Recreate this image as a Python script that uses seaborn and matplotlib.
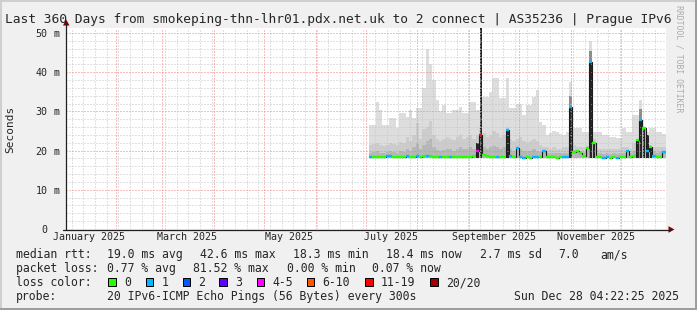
import numpy as np
import matplotlib
matplotlib.use("Agg")
import matplotlib.pyplot as plt
import seaborn as sns
from matplotlib.patches import Rectangle, Polygon
from matplotlib.lines import Line2D

# ---------------- data ----------------
title_text = "Last 360 Days from smokeping-thn-lhr01.pdx.net.uk to 2 connect | AS35236 | Prague IPv6"
graph_end = np.datetime64("2025-12-28T04:22:25")
span_days = 360
first_step = np.datetime64("2025-07-03")
step_days = 2

median_ms = [18.4, 18.3, 18.4, 18.3, 18.4, 18.5, 18.5, 18.4, 18.3, 18.4,
             18.3, 18.5, 18.4, 18.4, 18.5, 18.4, 18.5, 18.6, 18.5, 18.4,
             18.4, 18.3, 18.4, 18.3, 18.4, 18.4, 18.3, 18.4, 18.4, 18.3,
             18.4, 18.5, 20.0, 24.0, 18.8, 18.5, 18.4, 18.3, 18.4, 18.4,
             18.3, 25.2, 18.5, 18.3, 20.7, 18.4, 18.2, 18.3, 18.2, 18.3,
             18.4, 18.3, 20.0, 18.4, 18.3, 18.3, 18.2, 18.4, 18.3, 18.4,
             31.0, 19.7, 20.0, 19.5, 18.5, 20.6, 42.6, 22.0, 18.4, 18.3,
             18.2, 18.3, 18.2, 18.3, 18.2, 18.3, 18.4, 20.0, 18.3, 18.6,
             22.7, 27.8, 25.8, 20.0, 21.0, 18.5, 18.3, 18.4, 19.6]

smoke_max_ms = [26.5, 26.5, 32.5, 30.4, 26.5, 26.5, 28.3, 28.3, 25.8, 29.6,
                29.6, 28.6, 30.4, 28.3, 30.9, 30.9, 36.0, 46.0, 42.0, 38.0,
                33.0, 30.0, 31.6, 29.6, 29.6, 30.4, 30.4, 31.0, 29.6, 29.6,
                32.4, 32.4, 30.4, 30.4, 33.7, 33.7, 35.0, 38.5, 38.5, 33.4,
                33.4, 38.5, 30.9, 30.9, 32.0, 32.0, 29.0, 31.6, 31.6, 33.7,
                35.4, 27.3, 26.5, 24.0, 24.5, 25.0, 24.8, 24.2, 23.9, 24.8,
                37.5, 25.8, 25.8, 25.8, 24.7, 24.7, 48.0, 24.7, 24.7, 24.7,
                24.0, 24.0, 23.5, 23.5, 23.2, 23.2, 25.8, 24.7, 24.7, 29.0,
                29.0, 33.0, 24.7, 24.7, 25.8, 25.8, 24.7, 24.7, 24.3]

smoke_p75_ms = [21.5, 21.8, 22.0, 21.5, 21.2, 21.5, 22.0, 21.8, 21.5, 22.2,
                22.0, 23.5, 22.5, 24.0, 27.0, 23.0, 25.5, 26.0, 27.5, 24.0,
                23.0, 22.5, 23.0, 23.5, 23.0, 22.8, 23.5, 24.0, 23.0, 23.5,
                24.0, 23.0, 24.0, 26.0, 24.5, 23.5, 24.0, 25.0, 24.5, 23.5,
                24.0, 26.0, 23.0, 22.5, 23.0, 23.5, 22.5, 22.0, 22.5, 23.0,
                22.5, 21.5, 21.0, 20.8, 20.5, 21.0, 20.5, 20.5, 21.0, 21.0,
                21.5, 21.5, 21.0, 21.0, 20.8, 21.2, 22.0, 23.0, 20.5, 20.5,
                20.3, 20.5, 20.3, 20.5, 20.4, 20.5, 21.0, 21.0, 20.5, 22.0,
                23.0, 22.0, 26.0, 23.0, 21.5, 21.0, 20.8, 21.0, 21.0]

smoke_p60_ms = [19.5, 19.6, 19.8, 19.5, 19.4, 19.6, 19.8, 19.6, 19.5, 19.8,
                19.7, 20.5, 20.0, 21.0, 22.0, 20.5, 21.5, 22.5, 23.0, 21.0,
                20.2, 20.0, 20.2, 20.5, 20.3, 20.0, 20.4, 20.8, 20.3, 20.5,
                20.8, 20.4, 21.5, 24.0, 21.0, 20.5, 20.8, 21.2, 21.0, 20.5,
                20.8, 25.2, 20.4, 20.0, 21.0, 20.5, 20.0, 19.8, 20.0, 20.3,
                20.0, 19.6, 20.0, 19.4, 19.3, 19.5, 19.3, 19.4, 19.5, 19.5,
                20.5, 20.2, 20.0, 20.0, 19.6, 20.6, 21.0, 22.0, 19.4, 19.3,
                19.2, 19.3, 19.2, 19.3, 19.2, 19.3, 19.5, 20.0, 19.4, 20.0,
                22.7, 21.0, 25.8, 21.0, 21.0, 19.8, 19.5, 19.6, 19.8]

smoke_min_ms = 18.0

spike_steps = [32, 33, 41, 60, 66, 67, 80, 81, 82, 83, 84]
spike_top_ms = [22.0, 51.3, 25.2, 31.0, 42.6, 22.0, 22.7, 27.8, 25.8, 24.0, 21.0]
haze_steps = [60, 66, 81]
haze_top_ms = [34.0, 45.5, 30.5]

loss_code = [1, 0, 0, 0, 0, 1, 1, 0, 0, 0,
             0, 1, 0, 0, 1, 0, 0, 1, 0, 0,
             0, 1, 0, 0, 1, 0, 0, 0, 0, 0,
             0, 0, 4, 6, 0, 0, 0, 0, 1, 0,
             0, 1, 1, 0, 1, 1, 1, 0, 0, 1,
             1, 0, 1, 0, 0, 0, 0, 0, 1, 1,
             1, 0, 0, 0, 0, 0, 1, 0, 0, 0,
             1, 1, 0, 0, 1, 0, 0, 1, 0, 0,
             0, 1, 0, 1, 0, 1, 0, 0, 1]

loss_labels = ["0", "1", "2", "3", "4-5", "6-10", "11-19", "20/20"]
loss_colors = ["#26ff00", "#00b8ff", "#0059ff", "#5e00ff", "#ff00ff", "#ff5500", "#ff0000", "#a10000"]

month_labels = ["January 2025", "March 2025", "May 2025", "July 2025", "September 2025", "November 2025"]
month_label_months = ["2025-01", "2025-03", "2025-05", "2025-07", "2025-09", "2025-11"]
y_ticks_ms = [0, 10, 20, 30, 40, 50]
y_tick_numbers = ["0", "10", "20", "30", "40", "50"]
y_tick_units = ["", "m", "m", "m", "m", "m"]

row_rtt = [("median rtt:", 16), ("19.0 ms avg", 107.3), ("42.6 ms max", 200), ("18.3 ms min", 293.3),
           ("18.4 ms now", 386.3), ("2.7 ms sd", 479.7), ("7.0", 558), ("am/s", 600.3)]
row_loss = [("packet loss:", 16), ("0.77 % avg", 107.3), ("81.52 % max", 193.3),
            ("0.00 % min", 286.7), ("0.07 % now", 372.3)]
loss_box_x = [108.3, 145.7, 182.7, 219.3, 256.7, 306.7, 365.3, 430.3]
row_probe = [("probe:", 16), ("20 IPv6-ICMP Echo Pings (56 Bytes) every 300s", 107.3),
             ("Sun Dec 28 04:22:25 2025", 513.7)]

# ---------------- layout ----------------
W, H = 697, 310
sns.set_style("white")
plt.rcParams["font.family"] = ["DejaVu Sans Mono", "DejaVu Sans"]
MONO = "DejaVu Sans Mono"

fig = plt.figure(figsize=(W / 100, H / 100), dpi=100)
fig.patch.set_facecolor("#f0f0f0")


def P(x, y):
    return (x / W, 1 - y / H)


PL, PR, PT, PB = 66, 666, 28, 229
ax = fig.add_axes([PL / W, 1 - PB / H, (PR - PL) / W, (PB - PT) / H])
ax.set_facecolor("white")

day0 = np.datetime64("2025-01-01T00:00:00")
end_d = (graph_end - day0) / np.timedelta64(1, "D")
start_d = end_d - span_days
ax.set_xlim(start_d, end_d)
ax.set_ylim(0, (PB - PT) / 3.92)
for s in ax.spines.values():
    s.set_visible(False)

n = len(median_ms)
first_d = (first_step - day0) / np.timedelta64(1, "D")
edges = first_d + step_days * np.arange(n + 1, dtype=float)
edges[-1] = min(edges[-1], end_d)


def stepfill(top, color, z):
    top = np.asarray(top, dtype=float)
    ax.fill_between(edges, smoke_min_ms, np.r_[top, top[-1]], step="post",
                    color=color, lw=0, zorder=z, antialiased=False)


stepfill(smoke_max_ms, "#dddddd", 1)
stepfill(smoke_p75_ms, "#cccccc", 1.1)
stepfill(smoke_p60_ms, "#b6b6b6", 1.2)

for i, t in zip(haze_steps, haze_top_ms):
    ax.bar(edges[i] + 0.2, t - smoke_min_ms, bottom=smoke_min_ms, width=1.6,
           align="edge", color="#8c8c8c", lw=0, zorder=1.3)
for i, t in zip(spike_steps, spike_top_ms):
    ax.bar(edges[i] + 0.3, t - smoke_min_ms, bottom=smoke_min_ms, width=1.4,
           align="edge", color="#262626", lw=0, zorder=1.4)

# grid (dotted, drawn over the smoke as rrdtool does)
month_starts = np.arange(np.datetime64("2025-01"), np.datetime64("2026-01")).astype("datetime64[D]")
month_d = (month_starts - np.datetime64("2025-01-01")) / np.timedelta64(1, "D")
week_d = np.arange(4.5, 362, 7.0)
GRID_KW = dict(lw=0.72, ls=(0, (1, 2)), antialiased=True)
for d in week_d:
    if start_d < d < end_d:
        ax.axvline(d, color="#c4c4c4", zorder=2, **GRID_KW)
for v in np.arange(2, 51, 2):
    if v % 10:
        ax.axhline(v, color="#c4c4c4", zorder=2, **GRID_KW)
for d in month_d:
    if start_d < d < end_d:
        ax.axvline(d, color="#f08080", zorder=2.1, **GRID_KW)
for v in [10, 20, 30, 40, 50]:
    ax.axhline(v, color="#f08080", zorder=2.1, **GRID_KW)

# median line: thin dark step line + loss-coloured segments
sns.lineplot(x=edges, y=np.r_[median_ms, median_ms[-1]], ax=ax, drawstyle="steps-post",
             color="#1a1a1a", lw=0.8, errorbar=None, zorder=3)
ax.hlines(median_ms, edges[:-1], edges[1:], colors=[loss_colors[c] for c in loss_code],
          lw=1.7, zorder=4)

# ticks
ax.set_xticks([d for d in month_d if start_d < d < end_d])
ax.set_xticklabels([])
ax.set_xticks([d for d in week_d if start_d < d < end_d], minor=True)
ax.tick_params(axis="x", which="major", direction="out", length=2.5, width=0.72, color="#ff6060")
ax.tick_params(axis="x", which="minor", direction="out", length=1.5, width=0.72, color="#b0b0b0")
ax.set_yticks(y_ticks_ms)
ax.set_yticklabels([])
ax.set_yticks(np.arange(2, 51, 2), minor=True)
ax.tick_params(axis="y", which="major", direction="out", length=2, width=0.72, color="#ff6060")
ax.tick_params(axis="y", which="minor", direction="out", length=1.2, width=0.72, color="#b0b0b0")

# y tick labels: number right-aligned, unit after it (rrdtool style)
ytr = ax.get_yaxis_transform()
for v, num, unit in zip(y_ticks_ms, y_tick_numbers, y_tick_units):
    ax.text(-(PL - 47.6) / (PR - PL), v, num, transform=ytr, ha="right", va="center_baseline",
            fontsize=7.2, family=MONO)
    if unit:
        ax.text(-(PL - 53.4) / (PR - PL), v, unit, transform=ytr, ha="left", va="center_baseline",
                fontsize=7.2, family=MONO)

# month labels at mid-month
for lab, m in zip(month_labels, month_label_months):
    d = (np.datetime64(m + "-16") - np.datetime64("2025-01-01")) / np.timedelta64(1, "D")
    ax.text(d, -(240.5 - PB) / (PB - PT), lab, transform=ax.get_xaxis_transform(),
            ha="center", va="baseline", fontsize=7.2, family=MONO)

# axis lines and arrows
fig.add_artist(Line2D([P(PL, 0)[0]] * 2, [P(0, 229.5)[1], P(0, 24)[1]], color="#202020", lw=0.9))
fig.add_artist(Line2D([P(63, 0)[0], P(670, 0)[0]], [P(0, 229.5)[1]] * 2, color="#202020", lw=0.9))
fig.add_artist(Polygon([P(63, 25.5), P(69.5, 25.5), P(66.2, 19.5)], closed=True, color="#800000", lw=0))
fig.add_artist(Polygon([P(668.5, 226.2), P(668.5, 232.8), P(674.5, 229.5)], closed=True, color="#800000", lw=0))

# titles
fig.text(*P(338, 23), title_text, ha="center", va="baseline", fontsize=9.3, family=MONO)
fig.text(*P(10.5, 129), "Seconds", rotation=90, ha="center", va="center", fontsize=8.0, family=MONO)
fig.text(*P(679, 5), "RRDTOOL / TOBI OETIKER", rotation=270, ha="center", va="top",
         fontsize=5.9, family=MONO, color="#ababab")

# legend rows
LF = 8.3
for txt, x in row_rtt:
    fig.text(*P(x, 258), txt, ha="left", va="baseline", fontsize=LF, family=MONO)
for txt, x in row_loss:
    fig.text(*P(x, 272), txt, ha="left", va="baseline", fontsize=LF, family=MONO)
fig.text(*P(16, 286), "loss color:", ha="left", va="baseline", fontsize=LF, family=MONO)
for lab, col, x in zip(loss_labels, loss_colors, loss_box_x):
    x0, y0 = P(x, 285.5)
    fig.add_artist(Rectangle((x0, y0), 7.3 / W, 7.3 / H, facecolor=col, edgecolor="#000000", lw=0.72))
    fig.text(*P(x + 15.7, 286), lab, ha="left", va="baseline", fontsize=LF, family=MONO)
for txt, x in row_probe:
    fig.text(*P(x, 300), txt, ha="left", va="baseline", fontsize=LF, family=MONO)

# 3D frame
fig.add_artist(Line2D([0, 1], [P(0, 1)[1]] * 2, color="#cfcfcf", lw=1.44))
fig.add_artist(Line2D([P(1, 0)[0]] * 2, [0, 1], color="#cfcfcf", lw=1.44))
fig.add_artist(Line2D([0, 1], [P(0, 309)[1]] * 2, color="#9e9e9e", lw=1.44))
fig.add_artist(Line2D([P(696, 0)[0]] * 2, [0, 1], color="#9e9e9e", lw=1.44))

fig.savefig("out.png", dpi=100, facecolor=fig.get_facecolor())
